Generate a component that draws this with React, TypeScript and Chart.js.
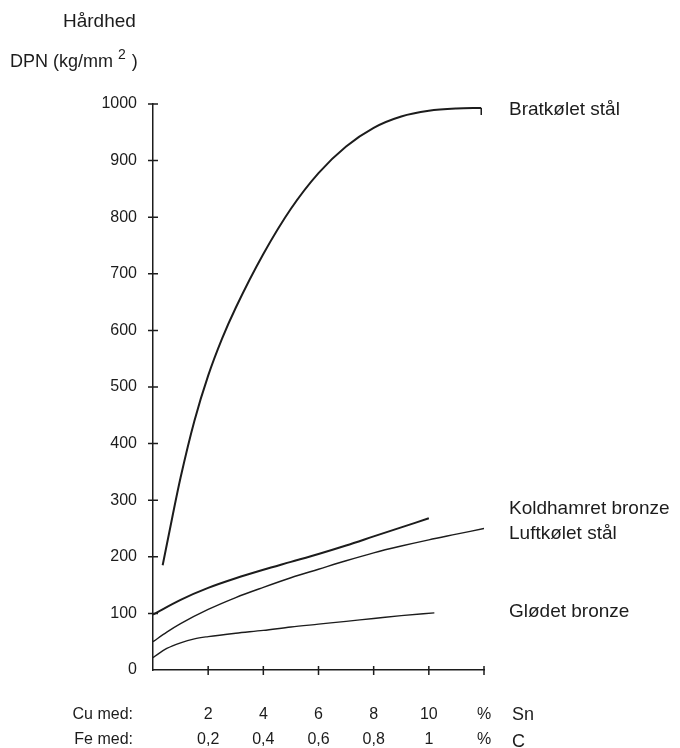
import React, { useEffect, useRef } from "react";
import { Chart, registerables } from "chart.js";

Chart.register(...registerables);

// ---- data ----
const seriesNames = ["Bratkølet stål", "Koldhamret bronze", "Luftkølet stål", "Glødet bronze"];

const bratX = [0.35, 0.7, 1.0, 1.5, 2, 2.5, 3, 4, 5, 6, 7, 8, 9, 10, 11, 11.9];
const bratY = [185, 270, 340, 440, 520, 585, 640, 735, 815, 878, 925, 958, 978, 988, 992, 993];

const koldX = [0, 1, 2, 3, 4, 5, 6, 7, 8, 9, 10];
const koldY = [98, 124, 145, 162, 177, 191, 205, 220, 236, 252, 268];

const luftX = [0, 0.5, 1, 2, 3, 4, 5, 6, 7, 8, 9, 10, 11, 12];
const luftY = [50, 67, 82, 107, 128, 146, 163, 178, 193, 207, 219, 230, 240, 250];

const glodX = [0, 0.5, 1, 1.5, 2, 3, 4, 5, 6, 7, 8, 9, 10.2];
const glodY = [22, 38, 48, 55, 59, 65, 70, 76, 81, 86, 91, 96, 101];

// label anchor values (y units) for the series names on the right
const labelAnchors = [990, 285, 240, 103];

const xTickValues = [0, 2, 4, 6, 8, 10, 12];
const snLabels = ["", "2", "4", "6", "8", "10", "%"];
const cLabels = ["", "0,2", "0,4", "0,6", "0,8", "1", "%"];
const yTickValues = [0, 100, 200, 300, 400, 500, 600, 700, 800, 900, 1000];

const INK = "#1c1c1c";
const FONT = '"Liberation Sans", Arial, Helvetica, sans-serif';

const zip = (xs: number[], ys: number[]) => xs.map((x, i) => ({ x, y: ys[i] }));

const annotPlugin = {
  id: "annot",
  afterDraw(chart: any) {
    const { ctx, chartArea } = chart;
    const xs = chart.scales.x;
    const ys = chart.scales.y;
    ctx.save();
    ctx.strokeStyle = INK;
    ctx.lineWidth = 1.5;
    ctx.beginPath();
    for (const v of yTickValues) {
      if (v === 0) continue;
      const py = ys.getPixelForValue(v);
      ctx.moveTo(chartArea.left - 5, py);
      ctx.lineTo(chartArea.left + 5, py);
    }
    for (const v of xTickValues) {
      if (v === 0) continue;
      const px = xs.getPixelForValue(v);
      ctx.moveTo(px, chartArea.bottom - 4);
      ctx.lineTo(px, chartArea.bottom + 5);
    }
    ctx.stroke();

    ctx.fillStyle = INK;
    ctx.textBaseline = "middle";
    ctx.textAlign = "left";
    ctx.font = `19px ${FONT}`;
    seriesNames.forEach((n, i) => {
      ctx.fillText(n, chartArea.right + 25, ys.getPixelForValue(labelAnchors[i]));
    });

    // axis title
    ctx.font = `19px ${FONT}`;
    ctx.fillText("Hårdhed", 63, 22);
    ctx.font = `18px ${FONT}`;
    const t1 = "DPN (kg/mm";
    ctx.fillText(t1, 10, 62);
    let cx = 10 + ctx.measureText(t1).width + 5;
    ctx.font = `14px ${FONT}`;
    ctx.fillText("2", cx, 55);
    cx += ctx.measureText("2").width + 6;
    ctx.font = `18px ${FONT}`;
    ctx.fillText(")", cx, 62);

    // bottom row captions
    ctx.font = `16px ${FONT}`;
    ctx.textAlign = "right";
    ctx.fillText("Cu med:", 133, chartArea.bottom + 45);
    ctx.fillText("Fe med:", 133, chartArea.bottom + 70);
    ctx.textAlign = "left";
    ctx.font = `18px ${FONT}`;
    ctx.fillText("Sn", chartArea.right + 28, chartArea.bottom + 45);
    ctx.fillText("C", chartArea.right + 28, chartArea.bottom + 72);
    ctx.restore();
  },
};

export default function App() {
  const ref = useRef<HTMLCanvasElement | null>(null);
  useEffect(() => {
    document.body.style.margin = "0";
    const canvas = ref.current!;
    const lineDs = (label: string, data: any[], width: number, extra: any = {}) => ({
      label,
      data,
      borderColor: INK,
      backgroundColor: INK,
      borderWidth: width,
      pointRadius: 0,
      fill: false,
      cubicInterpolationMode: "monotone",
      ...extra,
    });
    const brat = zip(bratX, bratY);
    const chart = new Chart(canvas, {
      type: "line",
      data: {
        datasets: [
          lineDs(seriesNames[0], brat, 2, {
            pointRadius: (c: any) => (c.dataIndex === brat.length - 1 ? 7 : 0),
            pointStyle: "dash",
            rotation: 90,
            pointBorderWidth: 1.5,
            pointBorderColor: INK,
          }),
          lineDs(seriesNames[1], zip(koldX, koldY), 2),
          lineDs(seriesNames[2], zip(luftX, luftY), 1.4),
          lineDs(seriesNames[3], zip(glodX, glodY), 1.4),
        ],
      },
      options: {
        responsive: false,
        animation: false,
        events: [],
        layout: { padding: { top: 104, right: 196, left: 0, bottom: 0 } },
        plugins: { legend: { display: false }, tooltip: { enabled: false } },
        scales: {
          x: {
            type: "linear",
            min: 0,
            max: 12,
            afterFit: (s: any) => {
              s.height = 78;
            },
            afterBuildTicks: (s: any) => {
              s.ticks = xTickValues.map((v) => ({ value: v }));
            },
            grid: { display: false, drawTicks: false },
            border: { display: true, color: INK, width: 1.5 },
            ticks: {
              autoSkip: false,
              maxRotation: 0,
              padding: 32,
              color: INK,
              font: { family: FONT, size: 16, lineHeight: 1.5625 },
              callback: (v: any) => {
                const i = xTickValues.indexOf(Number(v));
                if (i <= 0) return "";
                return [snLabels[i], cLabels[i]];
              },
            },
          },
          y: {
            type: "linear",
            min: 0,
            max: 1000,
            afterFit: (s: any) => {
              s.width = 153;
            },
            afterBuildTicks: (s: any) => {
              s.ticks = yTickValues.map((v) => ({ value: v }));
            },
            grid: { display: false, drawTicks: false },
            border: { display: true, color: INK, width: 1.5 },
            ticks: {
              padding: 16,
              color: INK,
              font: { family: FONT, size: 16 },
              callback: (v: any) => String(v),
            },
          },
        },
      },
      plugins: [annotPlugin],
    } as any);
    return () => chart.destroy();
  }, []);
  return (
    <canvas ref={ref} width={680} height={748} style={{ display: "block", width: 680, height: 748 }} />
  );
}
